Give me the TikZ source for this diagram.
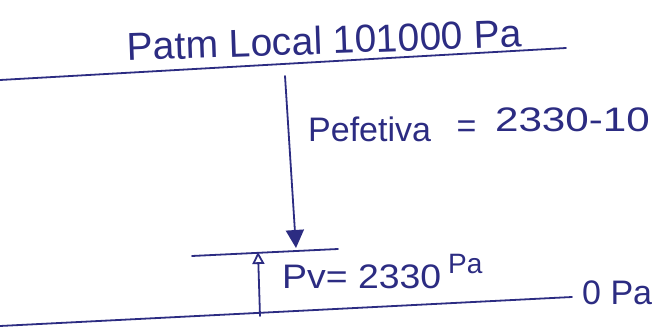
\documentclass[tikz,border=0pt]{standalone}
\usepackage{fontspec}
\setmainfont{Liberation Sans}
\usetikzlibrary{arrows.meta}
\definecolor{ink}{RGB}{44,44,130}
\tikzset{
  pen/.style={draw=ink, line width=1.8pt, line cap=round},
  label/.style={text=ink, inner sep=0pt, font=\fontsize{34}{38}\selectfont},
  biglabel/.style={text=ink, inner sep=0pt, font=\fontsize{39}{44}\selectfont}
}
\begin{document}
\begin{tikzpicture}[x=1pt,y=-1pt]
  \useasboundingbox (0,0) rectangle (661,336);
  \fill[white] (0,0) rectangle (661,336);

  % pressure levels
  \coordinate (atmL) at (0,80);
  \coordinate (atmR) at (566,48);
  \coordinate (vapL) at (192,256);
  \coordinate (vapR) at (338,249);
  \coordinate (zeroL) at (0,326);
  \coordinate (zeroR) at (572,297);
  \draw[pen] (atmL) -- (atmR);
  \draw[pen] (vapL) -- (vapR);
  \draw[pen] (zeroL) -- (zeroR);

  % arrows between levels
  \coordinate (effTop) at (285,76);
  \coordinate (effTip) at (296,248);
  \draw[pen, -{Triangle[length=18pt,width=18pt]}] (effTop) -- (effTip);
  \coordinate (pvBase) at (260,316);
  \coordinate (pvTip) at (258,252);
  \draw[pen, -{Triangle[open,length=12pt,width=12pt]}] (pvBase) -- (pvTip);

  % labels
  \node[biglabel, anchor=base, rotate=2] (patm) at (325,54) {Patm Local 101000 Pa};
  \node[label, anchor=base west] (pef) at (308,142)
    {Pefetiva\hspace{0.75em}\raisebox{4pt}{=}\hspace{0.55em}\raisebox{10pt}{\scalebox{1.24}[1]{2330-10}}};
  \node[label, anchor=base west] (pv) at (282,289)
    {\scalebox{1.1}[1]{Pv= 2330}\hspace{0.2em}\raisebox{0.85ex}{\fontsize{28}{32}\selectfont Pa}};
  \node[label, anchor=base west] (zero) at (582,305) {0 Pa};
\end{tikzpicture}
\end{document}
